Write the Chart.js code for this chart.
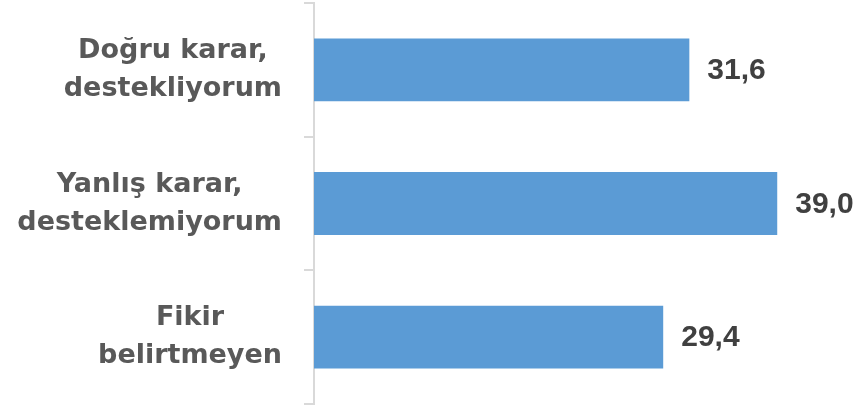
<!DOCTYPE html>
<html>
<head>
<meta charset="utf-8">
<script src="https://cdn.jsdelivr.net/npm/chart.js@4"></script>
<style>
  html, body { margin: 0; padding: 0; background: #fff; }
  #wrap { width: 858px; height: 408px; }
</style>
</head>
<body>
<div id="wrap"><canvas id="grafik" width="858" height="408"></canvas></div>
<script>
// kategoriler (iki satır) ve değerler
const kategoriler = [
  ["Doğru karar,", "destekliyorum"],
  ["Yanlış karar,", "desteklemiyorum"],
  ["Fikir", "belirtmeyen"],
];
const degerler = [31.6, 39.0, 29.4];

const etiketFont = "bold 27px 'DejaVu Sans'";
const degerFont = "bold 30px 'Liberation Sans'";

// Excel gibi: her etiket bloğu sağa yaslı, satırlar kendi içinde ortalı
const eksenEtiketleri = {
  id: "eksenEtiketleri",
  afterDraw(chart) {
    const ctx = chart.ctx;
    const y = chart.scales.y;
    ctx.save();
    ctx.font = etiketFont;
    ctx.fillStyle = "#595959";
    ctx.textAlign = "center";
    ctx.textBaseline = "middle";
    kategoriler.forEach((satirlar, i) => {
      const genislik = Math.max(...satirlar.map((s) => ctx.measureText(s).width));
      const ortaX = y.right - 32 - genislik / 2;
      const ortaY = y.getPixelForValue(i);
      const satirYuk = 38;
      satirlar.forEach((s, j) => {
        ctx.fillText(s, ortaX, ortaY + (j - (satirlar.length - 1) / 2) * satirYuk);
      });
    });
    ctx.restore();
  },
};

// çubuk sonundaki değerler
const degerEtiketleri = {
  id: "degerEtiketleri",
  afterDatasetsDraw(chart) {
    const ctx = chart.ctx;
    const meta = chart.getDatasetMeta(0);
    ctx.save();
    ctx.font = degerFont;
    ctx.fillStyle = "#404040";
    ctx.textAlign = "left";
    ctx.textBaseline = "middle";
    meta.data.forEach((bar, i) => {
      ctx.fillText(degerler[i].toFixed(1).replace(".", ","), bar.x + 18, bar.y + 1);
    });
    ctx.restore();
  },
};

new Chart(document.getElementById("grafik"), {
  type: "bar",
  data: {
    labels: kategoriler,
    datasets: [
      {
        data: degerler,
        backgroundColor: "#5B9BD5",
        borderWidth: 0,
        barPercentage: 0.47,
        categoryPercentage: 1,
      },
    ],
  },
  options: {
    indexAxis: "y",
    responsive: false,
    animation: false,
    layout: { padding: { top: 3, bottom: 4, left: 0, right: 0 } },
    plugins: {
      legend: { display: false },
      tooltip: { enabled: false },
    },
    scales: {
      x: {
        display: false,
        min: 0,
        max: 45.8,
      },
      y: {
        ticks: { display: false },
        grid: {
          offset: true,
          drawOnChartArea: false,
          drawTicks: true,
          tickLength: 10,
          color: "#D9D9D9",
          lineWidth: 2,
        },
        border: { display: true, color: "#D9D9D9", width: 2 },
        afterFit(scale) {
          scale.width = 314;
        },
      },
    },
  },
  plugins: [eksenEtiketleri, degerEtiketleri],
});
</script>
</body>
</html>
